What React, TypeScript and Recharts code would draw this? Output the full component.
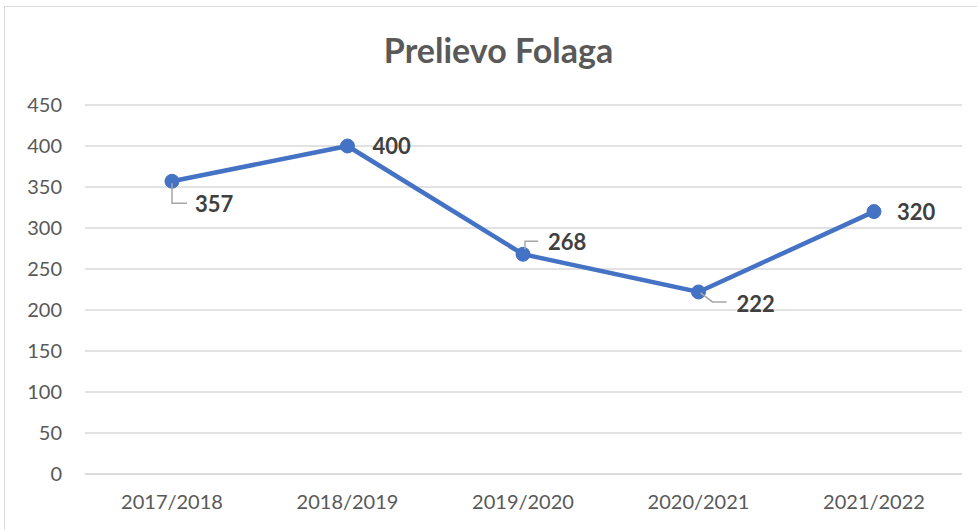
import { LineChart, Line, XAxis, YAxis, CartesianGrid } from 'recharts';

const seasons = ['2017/2018', '2018/2019', '2019/2020', '2020/2021', '2021/2022'];
const harvest = [357, 400, 268, 222, 320];
const yTicks = [0, 50, 100, 150, 200, 250, 300, 350, 400, 450];

const data = seasons.map((season, i) => ({ season, value: harvest[i] }));

// label offset from its point, and leader line path (relative), per point
const labelPlacement = [
    { dx: 23, dy: 31, leader: [[0, 2], [0, 22], [15, 22]] },
    { dx: 25, dy: 8, leader: null },
    { dx: 25, dy: -4, leader: [[2, -5], [2, -13], [15, -13]] },
    { dx: 38, dy: 20, leader: [[2, 1], [14, 10], [28, 10]] },
    { dx: 23, dy: 8, leader: null },
];

const FONT = 'Lato, "Open Sans", sans-serif';

const renderLabel = (props: any) => {
    const { x, y, value, index } = props;
    const p = labelPlacement[index];
    if (!p) return null;
    return (
        <g key={`lbl-${index}`}>
            {p.leader && (
                <polyline
                    points={p.leader.map(([a, b]) => `${x + a},${y + b}`).join(' ')}
                    fill="none"
                    stroke="#a6a6a6"
                    strokeWidth={1.5}
                />
            )}
            <text x={x + p.dx} y={y + p.dy} fill="#404040" fontSize={22} fontWeight={700} fontFamily={FONT}>
                {value}
            </text>
        </g>
    );
};

export default function App() {
    return (
        <div style={{ position: 'absolute', top: 0, left: 0, width: 977, height: 530, background: '#fff', overflow: 'hidden', fontFamily: FONT }}>
            <div style={{ position: 'absolute', left: 4, top: 6, width: 990, height: 540, border: '1px solid #d9d9d9', boxSizing: 'border-box' }} />
            <div style={{ position: 'absolute', top: 28, left: 10, width: 977, textAlign: 'center', fontSize: 34, fontWeight: 700, color: '#595959', lineHeight: '44px' }}>
                Prelievo Folaga
            </div>
            <div style={{ position: 'absolute', top: 0, left: 0 }}>
                <LineChart width={977} height={530} data={data} margin={{ top: 105, right: 15, bottom: 26, left: 25 }}>
                    <CartesianGrid vertical={false} stroke="#d9d9d9" strokeWidth={1.5} />
                    <XAxis
                        dataKey="season"
                        padding={{ left: 87, right: 88 }}
                        axisLine={{ stroke: '#d9d9d9', strokeWidth: 1.5 }}
                        tickLine={false}
                        tickSize={0}
                        tickMargin={21}
                        height={30}
                        interval={0}
                        tick={{ fill: '#595959', fontSize: 20, fontFamily: FONT }}
                    />
                    <YAxis
                        domain={[0, 450]}
                        ticks={yTicks}
                        axisLine={false}
                        tickLine={false}
                        tickSize={0}
                        tickMargin={23}
                        width={60}
                        interval={0}
                        tick={{ fill: '#595959', fontSize: 20, fontFamily: FONT }}
                    />
                    <Line
                        dataKey="value"
                        stroke="#4472C4"
                        strokeWidth={4.5}
                        dot={{ r: 7, fill: '#4472C4', stroke: '#4472C4', strokeWidth: 1 }}
                        activeDot={false}
                        isAnimationActive={false}
                        label={renderLabel}
                    />
                </LineChart>
            </div>
        </div>
    );
}
